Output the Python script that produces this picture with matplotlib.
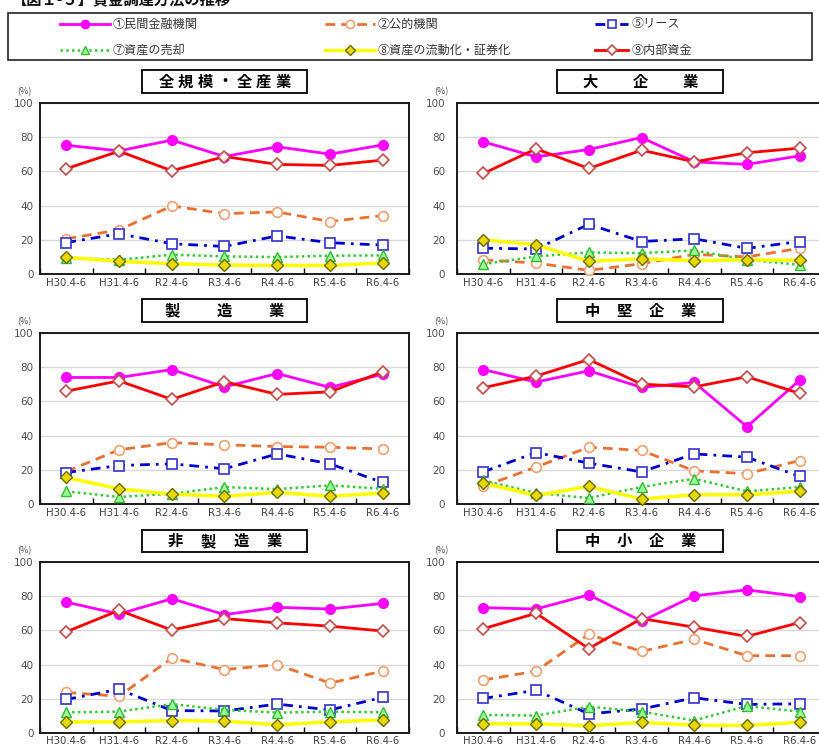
import numpy as np
import matplotlib
matplotlib.use("Agg")
import matplotlib.pyplot as plt
from matplotlib.lines import Line2D
from matplotlib.patches import Rectangle

plt.rcParams['font.family'] = ['Noto Sans CJK JP', 'DejaVu Sans']

# ---------------- data ----------------
periods = ["H30.4-6", "H31.4-6", "R2.4-6", "R3.4-6", "R4.4-6", "R5.4-6", "R6.4-6"]
series_names = ["①民間金融機関", "②公的機関", "⑤リース",
                "⑦資産の売却", "⑧資産の流動化・証券化", "⑨内部資金"]
panel_titles = ["全規模・全産業", "大企業", "製造業", "中堅企業", "非製造業", "中小企業"]
fig_title = "【図１-５】資金調達方法の推移"

# each list: panels in order 全規模・全産業, 大企業, 製造業, 中堅企業, 非製造業, 中小企業
private_fin = [
    [75.3, 72.0, 78.3, 68.7, 74.4, 70.1, 75.5],
    [77.3, 68.5, 72.8, 79.8, 65.6, 64.1, 69.1],
    [74.0, 74.0, 78.6, 68.5, 76.3, 68.2, 75.9],
    [78.6, 71.3, 77.9, 68.2, 71.1, 45.2, 72.4],
    [76.5, 69.6, 78.5, 69.2, 73.5, 72.5, 75.8],
    [73.3, 72.5, 80.8, 65.4, 80.2, 83.7, 79.8],
]
public_inst = [
    [20.6, 25.8, 39.8, 35.3, 36.3, 30.7, 34.2],
    [8.3, 6.4, 2.1, 6.0, 11.5, 10.0, 15.0],
    [19.0, 31.7, 35.9, 34.6, 33.6, 33.2, 32.2],
    [10.3, 21.6, 33.2, 31.3, 19.4, 17.7, 25.4],
    [23.7, 21.5, 43.8, 37.1, 40.0, 29.2, 36.2],
    [31.0, 36.2, 57.7, 47.7, 54.8, 45.2, 45.2],
]
lease = [
    [18.4, 23.5, 17.7, 16.1, 22.3, 18.3, 16.9],
    [15.1, 14.6, 29.1, 19.0, 20.6, 15.0, 19.0],
    [18.4, 22.5, 23.5, 20.6, 29.3, 23.5, 12.6],
    [18.8, 30.1, 23.9, 18.8, 29.3, 27.4, 16.1],
    [19.6, 25.6, 13.1, 12.9, 16.9, 13.5, 20.8],
    [20.2, 25.0, 11.2, 14.0, 20.6, 16.7, 17.1],
]
asset_sale = [
    [9.4, 8.3, 11.3, 10.3, 9.9, 10.7, 10.9],
    [5.8, 10.3, 12.6, 12.2, 13.8, 8.3, 5.4],
    [7.4, 4.1, 6.0, 9.9, 8.7, 10.9, 8.9],
    [13.8, 6.4, 3.5, 9.9, 14.8, 7.4, 9.9],
    [12.1, 12.5, 16.9, 13.5, 11.9, 12.5, 12.1],
    [10.6, 10.2, 15.4, 12.5, 7.3, 15.8, 12.5],
]
securitization = [
    [9.7, 7.4, 6.0, 5.2, 5.0, 5.0, 6.4],
    [20.0, 17.1, 7.4, 8.9, 7.8, 8.3, 8.0],
    [15.5, 8.9, 5.8, 4.5, 6.8, 4.5, 6.4],
    [12.2, 5.0, 10.3, 2.9, 5.4, 5.4, 7.4],
    [6.5, 6.5, 7.3, 6.9, 4.8, 6.5, 7.7],
    [5.4, 5.4, 4.2, 6.2, 4.6, 4.4, 6.3],
]
internal_funds = [
    [61.6, 71.8, 60.4, 68.7, 64.1, 63.5, 66.6],
    [58.8, 73.2, 61.7, 72.4, 65.6, 70.9, 73.6],
    [66.0, 72.0, 61.2, 71.5, 64.1, 65.6, 77.3],
    [68.0, 74.8, 84.5, 70.1, 68.5, 74.4, 64.7],
    [59.2, 71.7, 60.2, 66.9, 64.4, 62.5, 59.6],
    [61.0, 70.0, 49.4, 66.9, 61.9, 56.5, 64.6],
]
all_series = [private_fin, public_inst, lease, asset_sale, securitization, internal_funds]

# ---------------- styles ----------------
W, H = 819, 747
styles = [
    dict(color="#FF00FF", lw=2.0, ls="-", marker="o", ms=7, mfc="#FF00FF", mec="#FF00FF", mew=1.0),
    dict(color="#E97132", lw=2.0, dashes=(3.5, 2.2), marker="o", ms=7, mfc="white", mec="#F2A070", mew=1.2),
    dict(color="#0000CC", lw=2.0, dashes=(3.5, 2.2, 1, 2.2), marker="s", ms=6.5, mfc="white", mec="#3333CC", mew=1.2),
    dict(color="#33CC33", lw=1.8, dashes=(1, 1.3), marker="^", ms=7, mfc="#99FF99", mec="#33BB33", mew=1.0),
    dict(color="#FFFF00", lw=2.5, ls="-", marker="D", ms=6, mfc="#E8D800", mec="#6B6B00", mew=1.0),
    dict(color="#FF0000", lw=2.0, ls="-", marker="D", ms=6.5, mfc="#FFF4F4", mec="#C0504D", mew=1.2),
]
title_spacing = [19.5, 50, 52, 32, 33, 32]

def fx(px):
    return px / W

def fy(py):
    return 1 - py / H

fig = plt.figure(figsize=(W / 100, H / 100), dpi=100)
fig.patch.set_facecolor("white")

# figure title (partly cut off at top, as in the source)
fig.text(fx(12), fy(-1), fig_title, fontsize=11, fontweight="bold", va="center", ha="left", color="#111111")

# legend box
fig.add_artist(Rectangle((fx(8), fy(60)), fx(812) - fx(8), fy(13) - fy(60),
                         transform=fig.transFigure, fill=False, ec="#222222", lw=1.2))
leg_cols = [(60, 110, 113), (325, 375, 378), (595, 628, 632)]
leg_rows = [24, 50]
for i, (name, st) in enumerate(zip(series_names, styles)):
    r, c = divmod(i, 3)
    x0, x1, xt = leg_cols[c]
    y = fy(leg_rows[r])
    kw = {k: v for k, v in st.items() if k not in ("marker", "ms", "mfc", "mec", "mew")}
    fig.add_artist(Line2D([fx(x0), fx(x1)], [y, y], transform=fig.transFigure, **kw))
    fig.add_artist(Line2D([fx((x0 + x1) / 2)], [y], transform=fig.transFigure, ls="none",
                          marker=st["marker"], ms=st["ms"] * 0.85, mfc=st["mfc"], mec=st["mec"], mew=st["mew"]))
    fig.text(fx(xt), y, name, fontsize=8.7, va="center", ha="left", color="#333333")

# panels
col_left = [40, 457]
axw = 369
rows = [(103, 274), (333, 504), (562, 733)]
title_boxes_x = [(142, 307), (557, 723)]
title_boxes_y = [(70, 93), (299, 322), (530, 552)]
ypads = [4.5, 8.5]

x = np.arange(len(periods))
for p in range(6):
    r, c = divmod(p, 2)
    top, bot = rows[r]
    left = col_left[c]
    ax = fig.add_axes([fx(left), fy(bot), axw / W, (bot - top) / H])
    ax.set_xlim(-0.5, len(periods) - 0.5)
    ax.set_ylim(0, 100)
    ax.set_yticks([0, 20, 40, 60, 80, 100])
    ax.set_xticks(x)
    ax.set_xticklabels(periods, fontsize=7.3, color="#404040")
    ax.set_xticks(np.arange(-0.5, len(periods), 1.0), minor=True)
    ax.tick_params(axis="x", which="major", length=0, pad=2 if r == 2 else 3)
    ax.tick_params(axis="x", which="minor", length=4, direction="in", color="black", width=1)
    ax.tick_params(axis="y", length=0, labelsize=7.5, labelcolor="#505050", pad=ypads[c])
    for lab in ax.get_yticklabels():
        lab.set_family(["DejaVu Sans"])
    for lab in ax.get_xticklabels():
        lab.set_family(["DejaVu Sans"])
    ax.grid(axis="y", color="#D9D9D9", lw=1.0)
    ax.set_axisbelow(True)
    for sp in ax.spines.values():
        sp.set_color("#1A1A1A")
        sp.set_linewidth(1.4)
    for s_i, (series, st) in enumerate(zip(all_series, styles)):
        ax.plot(x, series[p], zorder=3 + s_i, clip_on=False, **st)
    # (%) label
    fig.text(fx(left - 16), fy(top - 11), "(%)", fontsize=6.5, color="#505050", ha="center", va="center")
    # title box
    bx0, bx1 = title_boxes_x[c]
    by0, by1 = title_boxes_y[r]
    fig.add_artist(Rectangle((fx(bx0), fy(by1)), fx(bx1) - fx(bx0), fy(by0) - fy(by1),
                             transform=fig.transFigure, fc="white", ec="black", lw=1.3))
    chars = list(panel_titles[p])
    sp_px = title_spacing[p]
    cx = (bx0 + bx1) / 2
    cy = (by0 + by1) / 2
    n = len(chars)
    for k, ch in enumerate(chars):
        px = cx + (k - (n - 1) / 2) * sp_px
        fig.text(fx(px), fy(cy), ch, fontsize=11, fontweight="bold", ha="center", va="center", color="black")

fig.savefig("out.png", dpi=100)
